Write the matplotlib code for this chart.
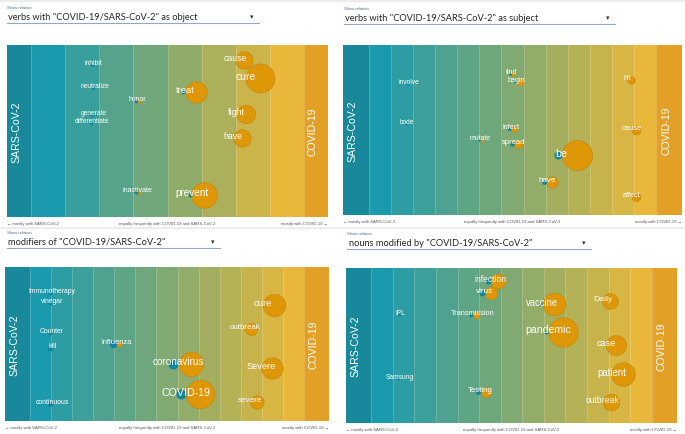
import numpy as np
import matplotlib
matplotlib.use("Agg")
import matplotlib.pyplot as plt
from matplotlib.colors import LinearSegmentedColormap
from matplotlib.transforms import ScaledTranslation

W, H = 685, 435

# verbs with "COVID-19/SARS-CoV-2" as object
obj_words = ["inhibit", "neutralize", "honor", "generate", "differentiate", "inactivate",
             "treat", "cause", "cure", "fight", "have", "prevent"]
obj_x = [0.269, 0.273, 0.407, 0.269, 0.266, 0.407, 0.555, 0.712, 0.743, 0.715, 0.705, 0.575]
obj_y = [0.116, 0.248, 0.326, 0.407, 0.453, 0.855, 0.272, 0.087, 0.194, 0.403, 0.539, 0.872]
obj_sars = [3, 3, 3, 3, 3, 4, 4, 0, 0, 0, 0, 4]
obj_covid = [0, 0, 3, 0, 0, 3, 114, 76, 210, 85, 76, 164]

# verbs with "COVID-19/SARS-CoV-2" as subject
subj_words = ["find", "begin", "involve", "bode", "mutate", "infect", "spread", "be",
              "have", "hit", "cause", "affect"]
subj_x = [0.496, 0.512, 0.195, 0.189, 0.404, 0.495, 0.504, 0.645, 0.601, 0.838, 0.851, 0.851]
subj_y = [0.172, 0.218, 0.229, 0.465, 0.557, 0.494, 0.585, 0.649, 0.804, 0.206, 0.502, 0.894]
subj_sars = [2, 2, 2, 1.5, 1.7, 3, 5, 16, 6, 0, 0, 0]
subj_covid = [4, 12, 0, 0, 3, 9, 18, 225, 32, 14, 20, 18]

# modifiers of "COVID-19/SARS-CoV-2"
mod_words = ["Immunotherapy", "vinegar", "Counter", "kill", "continuous", "influenza",
             "coronavirus", "COVID-19", "cure", "outbreak", "Severe", "severe"]
mod_x = [0.145, 0.145, 0.145, 0.147, 0.145, 0.344, 0.535, 0.558, 0.796, 0.740, 0.790, 0.756]
mod_y = [0.169, 0.236, 0.427, 0.524, 0.888, 0.498, 0.627, 0.827, 0.245, 0.405, 0.654, 0.875]
mod_sars = [4, 4, 4, 9, 6, 14, 25, 25, 0, 0, 0, 0]
mod_covid = [0, 0, 0, 0, 0, 7, 149, 204, 125, 36, 114, 45]

# nouns modified by "COVID-19/SARS-CoV-2"
noun_words = ["infection", "virus", "IPL", "Transmission", "Samsung", "Testing", "vaccine",
              "pandemic", "Daily", "case", "patient", "outbreak"]
noun_x = [0.437, 0.419, 0.163, 0.383, 0.162, 0.407, 0.593, 0.611, 0.775, 0.785, 0.802, 0.775]
noun_y = [0.087, 0.161, 0.306, 0.305, 0.718, 0.798, 0.234, 0.411, 0.211, 0.497, 0.686, 0.863]
noun_sars = [9, 9, 1.7, 4, 1.7, 6, 2, 4, 0, 0, 0, 0]
noun_covid = [56, 38, 0, 11, 0, 25, 128, 216, 61, 100, 139, 69]

TEAL = "#0f86a0"
ORANGE = "#de9706"
ORANGE_EDGE = "#c8890f"
band_cmap = LinearSegmentedColormap.from_list("bands", ["#1b9aad", "#80aa72", "#e9b83a"])
LEFT_END = "#17899a"
RIGHT_END = "#e2a126"
END = 0.076
FONT = "Liberation Sans"

fig = plt.figure(figsize=(W / 100, H / 100), dpi=100)


def px(x, y):
    return x / W, 1 - y / H


def header(x_left, y_text, x_right, relation):
    fig.text(*px(x_left, y_text - 9), "Show relation", fontsize=3, color="#4d6f94",
             family=FONT, va="center")
    fig.text(*px(x_left + 1.3, y_text), relation, fontsize=6.7, color="#252525",
             family="Lato", va="center")
    fig.text(*px(x_right - 7, y_text), "\u25be", fontsize=5, color="#333333",
             family="DejaVu Sans", va="center", ha="center")
    xa, ya = px(x_left, y_text + 6.8)
    xb, _ = px(x_right, y_text + 6.8)
    fig.add_artist(plt.Line2D([xa, xb], [ya, ya], color="#8fa9c2", lw=0.8,
                              transform=fig.transFigure))


def panel(box, words, xs, ys, sars, covid, n_full):
    x0, y0, x1, y1 = box
    ax = fig.add_axes([x0 / W, 1 - y1 / H, (x1 - x0) / W, (y1 - y0) / H])
    ax.set_xlim(0, 1)
    ax.set_ylim(1, 0)
    ax.set_axis_off()

    edges = np.concatenate([[0], np.linspace(END, 1 - END, n_full + 1), [1]])
    colors = [LEFT_END] + list(band_cmap(np.linspace(0, 1, n_full))) + [RIGHT_END]
    for i, c in enumerate(colors):
        ax.axvspan(edges[i], edges[i + 1], color=c, lw=0, zorder=0)
    for e in edges[1:-1]:
        ax.axvline(e, color="white", alpha=0.22, lw=0.6, zorder=1)

    dpi_tr = fig.dpi_scale_trans
    for w, x, y, s, c in zip(words, xs, ys, sars, covid):
        rs, rc = np.sqrt(s), np.sqrt(c)
        if s > 0:
            ax.scatter([x], [y], s=(2 * rs * 0.72) ** 2, color=TEAL, lw=0, zorder=3,
                       transform=ax.transData + ScaledTranslation(-rs / 100, 0, dpi_tr))
        if c > 0:
            ax.scatter([x], [y], s=(2 * rc * 0.72) ** 2, color=ORANGE,
                       edgecolors=ORANGE_EDGE, lw=0.5, zorder=2,
                       transform=ax.transData + ScaledTranslation(rc / 100, 0, dpi_tr))
        fs = (6.2 + 0.29 * np.hypot(rs, rc)) * 0.72
        ax.text(x, y, w, color="white", fontsize=fs, family=FONT, ha="center",
                va="center", zorder=5,
                transform=ax.transData + ScaledTranslation(0, 2.5 / 100, dpi_tr))

    ax.annotate("SARS-CoV-2", (0, 0.5), xycoords="axes fraction", xytext=(6.5, 0),
                textcoords="offset points", rotation=90, color="white", fontsize=7.6,
                family=FONT, ha="center", va="center")
    ax.annotate("COVID-19", (1, 0.5), xycoords="axes fraction", xytext=(-11.5, 0),
                textcoords="offset points", rotation=90, color="white", fontsize=7.6,
                family=FONT, ha="center", va="center")

    kw = dict(xycoords="axes fraction", textcoords="offset points", fontsize=3.1,
              color="#555555", family=FONT, va="center")
    ax.annotate("\u2190 mostly with SARS-CoV-2", (0, 0), xytext=(0, -4.2), ha="left", **kw)
    ax.annotate("equally frequently with COVID-19 and SARS-CoV-2", (0.5, 0),
                xytext=(0, -4.2), ha="center", **kw)
    ax.annotate("mostly with COVID-19 \u2192", (1, 0), xytext=(0, -4.2), ha="right", **kw)
    return ax


# faint separators across the page
for yy in (2, 229):
    xa, ya = px(0, yy)
    fig.add_artist(plt.Line2D([0, 1], [ya, ya], color="#ececec", lw=1.5,
                              transform=fig.transFigure))

header(6.7, 17.3, 259, 'verbs with "COVID-19/SARS-CoV-2" as object')
header(343.5, 18.3, 615, 'verbs with "COVID-19/SARS-CoV-2" as subject')
header(6.7, 242.3, 220, 'modifiers of "COVID-19/SARS-CoV-2"')
header(347.3, 243.3, 590.7, 'nouns modified by "COVID-19/SARS-CoV-2"')

panel((7, 46, 328, 218), obj_words, obj_x, obj_y, obj_sars, obj_covid, 8)
panel((343, 46, 682, 216), subj_words, subj_x, subj_y, subj_sars, subj_covid, 13)
panel((5, 268, 329, 422), mod_words, mod_x, mod_y, mod_sars, mod_covid, 13)
panel((346, 269, 677, 424), noun_words, noun_x, noun_y, noun_sars, noun_covid, 13)

fig.savefig("out.png", dpi=100)
